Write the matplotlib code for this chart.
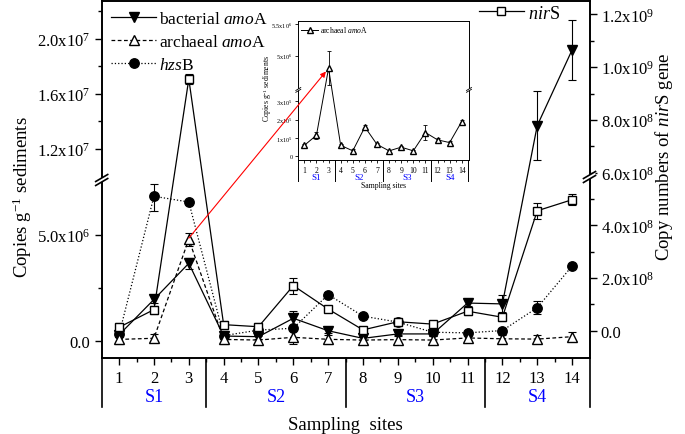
import numpy as np
import matplotlib.pyplot as plt
from matplotlib import transforms
from matplotlib.lines import Line2D
from matplotlib.patches import ConnectionPatch, Polygon

plt.rcParams['font.family'] = 'Liberation Serif'
plt.rcParams['mathtext.fontset'] = 'custom'
plt.rcParams['mathtext.rm'] = 'Liberation Serif'
plt.rcParams['mathtext.it'] = 'Liberation Serif:italic'

## data
sites = np.arange(1, 15)
groups = ['S1', 'S2', 'S3', 'S4']
group_centers = [2, 5.5, 9.5, 13]
group_edges = [0.5, 3.5, 7.5, 11.5, 14.5]

bact = [0.28e6, 1.95e6, 3.66e6, 0.22e6, 0.19e6, 1.06e6, 0.47e6, 0.11e6, 0.32e6, 0.32e6, 1.78e6, 1.74e6, 1.37e7, 1.92e7]
bact_err = [0.1e6, 0.15e6, 0.25e6, 0.1e6, 0.1e6, 0.35e6, 0.1e6, 0.1e6, 0.1e6, 0.1e6, 0.15e6, 0.4e6, 2.5e6, 2.2e6]
arch = [0.6e5, 1.15e5, 4.8e6, 0.6e5, 0.3e5, 1.6e5, 0.65e5, 0.3e5, 0.5e5, 0.3e5, 1.3e5, 0.9e5, 0.75e5, 1.9e5]
arch_err = [0.2e6, 0.2e6, 0.3e6, 0.2e6, 0.2e6, 0.33e6, 0.2e6, 0.2e6, 0.2e6, 0.2e6, 0.2e6, 0.2e6, 0.2e6, 0.2e6]
arch_err_inset = [0.08e5, 0.2e5, 0.27e6, 0.08e5, 0.08e5, 0.1e5, 0.1e5, 0.05e5, 0.05e5, 0.05e5, 0.4e5, 0.1e5, 0.08e5, 0.1e5]
hzsb = [0.3e6, 6.83e6, 6.56e6, 0.24e6, 0.5e6, 0.59e6, 2.18e6, 1.16e6, 0.88e6, 0.4e6, 0.37e6, 0.48e6, 1.56e6, 3.53e6]
hzsb_err = [0.1e6, 0.7e6, 0.1e6, 0.1e6, 0.1e6, 0.1e6, 0.1e6, 0.1e6, 0.1e6, 0.1e6, 0.1e6, 0.1e6, 0.3e6, 0.1e6]
nirs = [1.3e7, 8.0e7, 9.55e8, 2.3e7, 1.5e7, 1.71e8, 8.2e7, 0.3e7, 3.4e7, 2.5e7, 7.4e7, 5.1e7, 4.55e8, 4.97e8]
nirs_err = [1.5e7, 1.5e7, 2.0e7, 1.5e7, 1.5e7, 3.0e7, 1.0e7, 1.0e7, 1.0e7, 1.0e7, 1.5e7, 1.5e7, 3.0e7, 2.0e7]

left_ticks = [0, 5e6, 1.2e7, 1.6e7, 2.0e7]
left_labels = ['0.0', r'5.0x10$^6$', r'1.2x10$^7$', r'1.6x10$^7$', r'2.0x10$^7$']
right_ticks = [0, 2e8, 4e8, 6e8, 8e8, 1e9, 1.2e9]
right_labels = ['0.0', r'2.0x10$^8$', r'4.0x10$^8$', r'6.0x10$^8$', r'8.0x10$^8$', r'1.0x10$^9$', r'1.2x10$^9$']
inset_ticks = [0, 1e5, 2e5, 3e5, 5e6, 5.5e6]
inset_labels = ['0', r'1x10$^5$', r'2x10$^5$', r'3x10$^5$', r'5x10$^6$', r'5.5x10$^6$']


def broken(a, b, s1, s2, vu, pu):
    # piecewise linear y scale: lower part v*s1, upper part pu+(v-vu)*s2
    pa = a * s1
    pb = pu + (b - vu) * s2

    def fwd(v):
        v = np.asarray(v, float)
        return np.where(v <= a, v * s1,
                        np.where(v >= b, pb + (v - b) * s2, pa + (v - a) * (pb - pa) / (b - a)))

    def inv(p):
        p = np.asarray(p, float)
        return np.where(p <= pa, p / s1,
                        np.where(p >= pb, b + (p - pb) / s2, a + (p - pa) * (b - a) / (pb - pa)))
    return fwd, inv


W, H = 685, 435
fig = plt.figure(figsize=(6.85, 4.35), dpi=100)


def fpos(x, y):
    return x / W, 1 - y / H


def break_mark(x, y, dx, dy, gap, lw):
    # two slanted strokes across a spine, white between
    p1 = [fpos(x - dx, y + dy), fpos(x + dx, y - dy)]
    p2 = [fpos(x - dx, y + dy + gap), fpos(x + dx, y - dy + gap)]
    fig.add_artist(Polygon([p1[0], p1[1], p2[1], p2[0]], closed=True, facecolor='white',
                           edgecolor='none', transform=fig.transFigure, zorder=20))
    for p in (p1, p2):
        fig.add_artist(Line2D([p[0][0], p[1][0]], [p[0][1], p[1][1]], color='k', lw=lw,
                              transform=fig.transFigure, zorder=21))


## main axes
ax = fig.add_axes([101.7 / W, 1 - 358.5 / H, 487.8 / W, 356.5 / H])
ax.set_yscale('function', functions=broken(7.37e6, 1.025e7, 105.7 / 5e6, 55 / 4e6, 1.2e7, 191.7))
ax.set_ylim(-7.95e5, 2.276e7)
ax.set_xlim(0.5, 14.5)

ms = 6.8
ekw = dict(color='k', lw=0.9, capsize=3, elinewidth=0.8, capthick=0.8)
ax.errorbar(sites, bact, yerr=bact_err, fmt='-v', ms=ms, mfc='k', **ekw)
ax.errorbar(sites, hzsb, yerr=hzsb_err, fmt=':o', ms=ms, mfc='k', **ekw)
ax.errorbar(sites, arch, yerr=arch_err, fmt='--^', ms=ms, mfc='white', dashes=(3, 2), **ekw)

ax.set_yticks(left_ticks)
ax.set_yticklabels(left_labels)
ax.set_yticks([2.5e6, 1.4e7, 1.8e7, 2.2e7], minor=True)
ax.set_xticks(sites)
ax.set_xticks(np.arange(1.5, 14.5, 1), minor=True)
ax.tick_params(which='both', direction='out', labelsize=12, width=1)
ax.tick_params(which='major', length=5, pad=4)
ax.tick_params(which='minor', length=3)
ax.tick_params(axis='y', pad=3)
for s in ax.spines.values():
    s.set_linewidth(1.2)

ax2 = ax.twinx()
ax2.set_ylim(-1.017e8, 1.251e9)
ax2.errorbar(sites, nirs, yerr=nirs_err, fmt='-s', ms=6, mfc='white', **ekw)
ax2.set_yticks(right_ticks)
ax2.set_yticklabels(right_labels)
ax2.set_yticks([1e8, 3e8, 5e8, 7e8, 9e8, 1.1e9], minor=True)
ax2.tick_params(which='both', direction='out', labelsize=12, width=1)
ax2.tick_params(which='major', length=5, pad=3)
ax2.tick_params(which='minor', length=3)
for s in ax2.spines.values():
    s.set_linewidth(1.2)

# site group box below the axis
tr = transforms.blended_transform_factory(ax.transData, ax.transAxes)
for xv in group_edges:
    ax.plot([xv, xv], [0, -0.139], transform=tr, color='k', lw=1.2, clip_on=False)
for c, g in zip(group_centers, groups):
    ax.text(c, -0.108, g, transform=tr, ha='center', va='center', color='blue', fontsize=13)
ax.text(0.5, -0.187, 'Sampling  sites', transform=ax.transAxes, ha='center', va='center', fontsize=13.5)

fig.text(*fpos(22, 197), r'Copies g$^{-1}$ sediments', rotation=90, ha='center', va='center', fontsize=13.5)
fig.text(*fpos(664, 157), r'Copy numbers of $\it{nir}$S gene', rotation=90, ha='center', va='center', fontsize=13.5)

# legends
h_bact = Line2D([], [], color='k', lw=0.9, marker='v', ms=ms, mfc='k')
h_arch = Line2D([], [], color='k', lw=0.9, ls='--', dashes=(3, 2), marker='^', ms=ms, mfc='white')
h_hzs = Line2D([], [], color='k', lw=0.9, ls=':', marker='o', ms=ms, mfc='k')
ax.legend([h_bact, h_arch, h_hzs], [r'bacterial $\it{amo}$A', r'archaeal $\it{amo}$A', r'$\it{hzs}$B'],
          loc='upper left', frameon=False, fontsize=12.5, handlelength=2.6, handletextpad=0.15,
          labelspacing=0.4, borderaxespad=0.35, borderpad=0.2)
h_nir = Line2D([], [], color='k', lw=0.9, marker='s', ms=6, mfc='white')
ax2.legend([h_nir], [r'$\it{nir}$S'], loc='upper right', bbox_to_anchor=(0.955, 1.01), frameon=False,
           fontsize=13, handlelength=2.5, handletextpad=0.25, borderaxespad=0.2, borderpad=0.2)

break_mark(101.7, 179, 6, 3.5, 4, 1.2)
break_mark(589.5, 176, 6, 3.5, 4, 1.2)

## inset with archaeal amoA
axi = fig.add_axes([298.3 / W, 1 - 161 / H, 170.7 / W, 138.7 / H])
axi.set_yscale('function', functions=broken(3.5e5, 4.52e6, 18.3 / 1e5, 31.7 / 0.5e6, 5e6, 100.6))
axi.set_ylim(-0.2e5, 5.54e6)
axi.set_xlim(0.5, 14.6)
axi.errorbar(sites, arch, yerr=arch_err_inset, fmt='-^', color='k', ms=4, mfc='white', lw=0.7,
             capsize=1.5, elinewidth=0.6, capthick=0.6)
axi.set_yticks(inset_ticks)
axi.set_yticklabels(inset_labels)
axi.set_xticks(sites)
axi.set_xticks(np.arange(1.5, 14.5, 1), minor=True)
axi.tick_params(which='both', direction='out', labelsize=5.5, width=0.6, pad=1.5)
axi.tick_params(which='major', length=2.5)
axi.tick_params(which='minor', length=1.5)
axi.tick_params(axis='y', labelsize=4.5)
for s in axi.spines.values():
    s.set_linewidth(0.7)
tri = transforms.blended_transform_factory(axi.transData, axi.transAxes)
for xv in group_edges:
    axi.plot([xv, xv], [0, -0.152], transform=tri, color='k', lw=0.7, clip_on=False)
for c, g in zip(group_centers, groups):
    axi.text(c, -0.123, g, transform=tri, ha='center', va='center', color='blue', fontsize=6.5)
axi.text(0.5, -0.18, 'Sampling sites', transform=axi.transAxes, ha='center', va='center', fontsize=5.5)
fig.text(*fpos(268, 88), r'Copies g$^{-1}$ sediments', rotation=90, ha='center', va='center', fontsize=5.5)
h_ai = Line2D([], [], color='k', lw=0.7, marker='^', ms=4, mfc='white')
axi.legend([h_ai], [r'archaeal $\it{amo}$A'], loc='upper left', frameon=False, fontsize=5.5,
           handlelength=2.2, handletextpad=0.3, borderaxespad=0.2, borderpad=0.2)
break_mark(298.3, 90, 2.5, 1.5, 1.8, 0.6)
break_mark(469, 90, 2.5, 1.5, 1.8, 0.6)

# red arrow from main point to inset point
con = ConnectionPatch(xyA=(3, 4.85e6), coordsA='data', axesA=ax, xyB=(3, arch[2]), coordsB='data',
                      axesB=axi, arrowstyle='-|>', mutation_scale=8, color='red', lw=0.8, shrinkB=3)
fig.add_artist(con)

fig.savefig('out.png', dpi=100)
